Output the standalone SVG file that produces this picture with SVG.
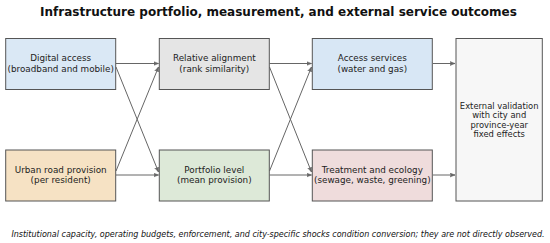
<svg xmlns="http://www.w3.org/2000/svg" width="550" height="243" viewBox="0 0 550 243">
<style>
.box{stroke:#555555;stroke-width:1}
.t{font-family:"DejaVu Sans",sans-serif;font-size:8.8px;fill:#222222;text-anchor:middle}
.te{font-family:"DejaVu Sans",sans-serif;font-size:8.4px;fill:#222222;text-anchor:middle}
.title{font-family:"DejaVu Sans",sans-serif;font-size:12px;font-weight:bold;fill:#111111;text-anchor:middle}
.foot{font-family:"DejaVu Sans",sans-serif;font-size:8px;font-style:italic;fill:#111111;text-anchor:middle}
.c{stroke:#666666;stroke-width:1;fill:none;marker-end:url(#ah)}
</style>
<defs>
<marker id="ah" viewBox="0 0 10 10" refX="10" refY="5" markerWidth="5" markerHeight="5" markerUnits="userSpaceOnUse" orient="auto">
<path d="M0,1 L10,5 L0,9 L2,5 Z" fill="#666666" stroke="#666666" stroke-width="1"/>
</marker>
</defs>
<rect width="550" height="243" fill="#ffffff"/>
<text class="title" x="278.5" y="15.5">Infrastructure portfolio, measurement, and external service outcomes</text>
<g id="connectors">
<line class="c" x1="116" y1="63.5" x2="158.5" y2="63.5"/>
<line class="c" x1="116" y1="67" x2="158.5" y2="172"/>
<line class="c" x1="116" y1="171" x2="158.5" y2="67"/>
<line class="c" x1="116" y1="175" x2="158.5" y2="175"/>
<line class="c" x1="269.5" y1="63.5" x2="311.5" y2="63.5"/>
<line class="c" x1="269.5" y1="67" x2="311.5" y2="172"/>
<line class="c" x1="269.5" y1="171" x2="311.5" y2="67"/>
<line class="c" x1="269.5" y1="175" x2="311.5" y2="175"/>
<line class="c" x1="433" y1="63.5" x2="455" y2="63.5"/>
<line class="c" x1="433" y1="175" x2="455" y2="175"/>
</g>
<g id="digital">
<rect class="box" x="5.7" y="38.5" width="110" height="51" fill="#dae8f5"/>
<text class="t" x="60.7" y="61.3">Digital access</text>
<text class="t" x="60.7" y="71.8">(broadband and mobile)</text>
</g>
<g id="road">
<rect class="box" x="5.7" y="150" width="110" height="51" fill="#f6e2c4"/>
<text class="t" x="60.7" y="172.8">Urban road provision</text>
<text class="t" x="60.7" y="183.3">(per resident)</text>
</g>
<g id="alignment">
<rect class="box" x="159.3" y="38.5" width="110" height="51" fill="#e5e5e5"/>
<text class="t" x="214.3" y="61.3">Relative alignment</text>
<text class="t" x="214.3" y="71.8">(rank similarity)</text>
</g>
<g id="portfolio">
<rect class="box" x="159.3" y="150" width="110" height="51" fill="#dde9d8"/>
<text class="t" x="214.3" y="172.8">Portfolio level</text>
<text class="t" x="214.3" y="183.3">(mean provision)</text>
</g>
<g id="access">
<rect class="box" x="312.3" y="38.5" width="120" height="51" fill="#d8e7f5"/>
<text class="t" x="372.3" y="61.3">Access services</text>
<text class="t" x="372.3" y="71.8">(water and gas)</text>
</g>
<g id="treatment">
<rect class="box" x="312.3" y="150" width="120" height="51" fill="#efdcdc"/>
<text class="t" x="372.3" y="172.8">Treatment and ecology</text>
<text class="t" x="372.3" y="183.3">(sewage, waste, greening)</text>
</g>
<g id="external">
<rect class="box" x="456" y="38.5" width="86.3" height="162.5" fill="#f7f7f7"/>
<text class="te" x="499.2" y="108.7">External validation</text>
<text class="te" x="499.2" y="118.1">with city and</text>
<text class="te" x="499.2" y="127.5">province-year</text>
<text class="te" x="499.2" y="136.9">fixed effects</text>
</g>
<text class="foot" x="278" y="237">Institutional capacity, operating budgets, enforcement, and city-specific shocks condition conversion; they are not directly observed.</text>
</svg>
